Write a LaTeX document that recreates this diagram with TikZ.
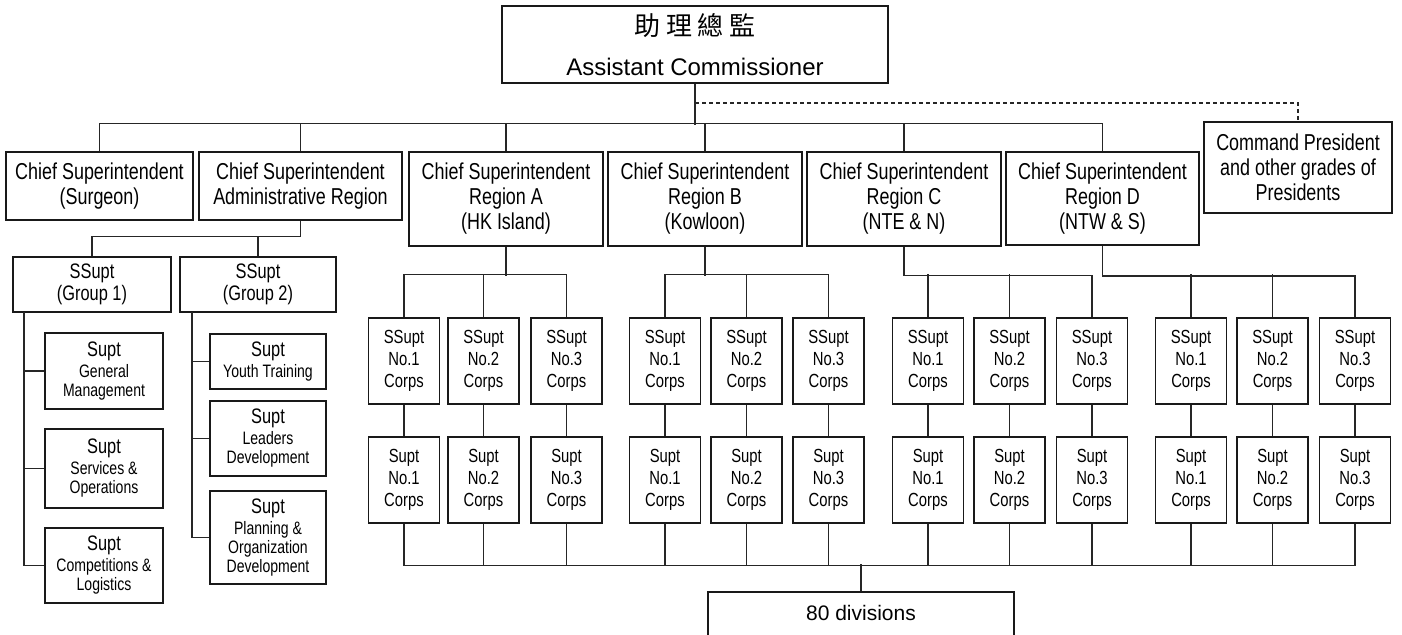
\documentclass[tikz,border=0pt]{standalone}
\usepackage{fontspec}
\setmainfont{Liberation Sans}
\newfontfamily\narrow{Liberation Sans}[FakeStretch=0.78]
\newfontfamily\cjk{Noto Sans CJK TC}
\tikzset{
  box/.style={draw=black!90, line width=0.65pt, inner sep=0pt, align=center},
  chief/.style={box, font=\narrow\fontsize{11.5}{12.5}\selectfont},
  grp/.style={box, font=\narrow\fontsize{10.5}{11}\selectfont, minimum width=79pt, minimum height=27.5pt},
  supt/.style={box, font=\narrow\fontsize{9}{9.5}\selectfont},
  corps/.style={box, font=\narrow\fontsize{9.5}{11}\selectfont, minimum width=35.5pt, minimum height=43pt},
  wire/.style={draw=black!85, line width=0.65pt}
}
\newcommand{\suptline}{{\fontsize{10.5}{10.5}\selectfont Supt}\\[1pt]}
\begin{document}
\begin{tikzpicture}[x=0.5pt, y=-0.5pt]
\useasboundingbox (0,0) rectangle (1402,635);
\clip (0,0) rectangle (1402,635);
% top
\node[box, font=\fontsize{12}{20}\selectfont, minimum width=193pt, minimum height=38.5pt] (ac) at (695,44.5) {{\cjk\fontsize{13}{20}\selectfont 助 理 總 監}\\Assistant Commissioner};
% chief superintendents
\node[chief, minimum width=93.5pt, minimum height=34pt] (surgeon) at (99.5,186) {Chief Superintendent\\(Surgeon)};
\node[chief, minimum width=101.5pt, minimum height=34pt] (admin) at (300.5,186) {Chief Superintendent\\Administrative Region};
\node[chief, minimum width=97pt, minimum height=47pt] (regA) at (506,199) {Chief Superintendent\\Region A\\(HK Island)};
\node[chief, minimum width=97pt, minimum height=47pt] (regB) at (705,199) {Chief Superintendent\\Region B\\(Kowloon)};
\node[chief, minimum width=97pt, minimum height=47pt] (regC) at (904,199) {Chief Superintendent\\Region C\\(NTE \& N)};
\node[chief, minimum width=96.5pt, minimum height=46.5pt] (regD) at (1102.5,198.5) {Chief Superintendent\\Region D\\(NTW \& S)};
\node[chief, minimum width=94pt, minimum height=45.5pt] (cmd) at (1298,167.5) {Command President\\and other grades of\\Presidents};
% administrative region
\node[grp] (grpA) at (92,284.5) {SSupt\\(Group 1)};
\node[grp, minimum width=78pt] (grpB) at (258,284.5) {SSupt\\(Group 2)};
\node[supt, minimum width=59pt, minimum height=38pt] (genman) at (104,371) {\suptline General\\Management};
\node[supt, minimum width=59pt, minimum height=39.5pt] (servop) at (104,468.5) {\suptline Services \&\\Operations};
\node[supt, minimum width=59pt, minimum height=37.5pt] (complog) at (104,565.5) {\suptline Competitions \&\\Logistics};
\node[supt, minimum width=58pt, minimum height=27.5pt] (youth) at (268,361.5) {\suptline Youth Training};
\node[supt, minimum width=58pt, minimum height=37.5pt] (leaders) at (268,438.5) {\suptline Leaders\\Development};
\node[supt, minimum width=58pt, minimum height=46.5pt] (planning) at (268,537.5) {\suptline Planning \&\\Organization\\Development};
% corps
\node[corps] (ssA1) at (404,361) {SSupt\\No.1\\Corps}; \node[corps] (ssA2) at (483.5,361) {SSupt\\No.2\\Corps}; \node[corps] (ssA3) at (566.5,361) {SSupt\\No.3\\Corps};
\node[corps] (ssB1) at (665,361) {SSupt\\No.1\\Corps}; \node[corps] (ssB2) at (746.5,361) {SSupt\\No.2\\Corps}; \node[corps] (ssB3) at (828.5,361) {SSupt\\No.3\\Corps};
\node[corps] (ssC1) at (928,361) {SSupt\\No.1\\Corps}; \node[corps] (ssC2) at (1009.5,361) {SSupt\\No.2\\Corps}; \node[corps] (ssC3) at (1092,361) {SSupt\\No.3\\Corps};
\node[corps] (ssD1) at (1191,361) {SSupt\\No.1\\Corps}; \node[corps] (ssD2) at (1272.5,361) {SSupt\\No.2\\Corps}; \node[corps] (ssD3) at (1355,361) {SSupt\\No.3\\Corps};
\node[corps] (suA1) at (404,480) {Supt\\No.1\\Corps}; \node[corps] (suA2) at (483.5,480) {Supt\\No.2\\Corps}; \node[corps] (suA3) at (566.5,480) {Supt\\No.3\\Corps};
\node[corps] (suB1) at (665,480) {Supt\\No.1\\Corps}; \node[corps] (suB2) at (746.5,480) {Supt\\No.2\\Corps}; \node[corps] (suB3) at (828.5,480) {Supt\\No.3\\Corps};
\node[corps] (suC1) at (928,480) {Supt\\No.1\\Corps}; \node[corps] (suC2) at (1009.5,480) {Supt\\No.2\\Corps}; \node[corps] (suC3) at (1092,480) {Supt\\No.3\\Corps};
\node[corps] (suD1) at (1191,480) {Supt\\No.1\\Corps}; \node[corps] (suD2) at (1272.5,480) {Supt\\No.2\\Corps}; \node[corps] (suD3) at (1355,480) {Supt\\No.3\\Corps};
\node[box, font=\fontsize{10.5}{12}\selectfont, anchor=base, text height=14.25pt, text depth=13.75pt, minimum width=153pt] (div) at (861,620.5) {80 divisions};
% connectors
\coordinate (dash) at (695,103);
\coordinate (sp1) at (24,312); \coordinate (sp2) at (192,312);
\draw[wire] (ac.south) -- ++(0,41);
\draw[wire] (surgeon.north) -- ++(0,-28) -| (regD.north);
\draw[wire] (admin.north) -- ++(0,-28); \draw[wire] (regA.north) -- ++(0,-28);
\draw[wire] (regB.north) -- ++(0,-28); \draw[wire] (regC.north) -- ++(0,-28);
\draw[wire, dash pattern=on 2pt off 1.5pt] (dash) -| (cmd.north);
\draw[wire] (admin.south) -- ++(0,16) -| (grpA.north);
\draw[wire] (admin.south) ++(0,16) -| (grpB.north);
\draw[wire] (sp1) |- (genman.west); \draw[wire] (sp1) |- (servop.west); \draw[wire] (sp1) |- (complog.west);
\draw[wire] (sp2) |- (youth.west); \draw[wire] (sp2) |- (leaders.west); \draw[wire] (sp2) |- (planning.west);
\draw[wire] (ssA1.north) -- ++(0,-43) -| (ssA3.north); \draw[wire] (ssA2.north) -- ++(0,-43); \draw[wire] (regA.south) -- ++(0,29);
\draw[wire] (ssB1.north) -- ++(0,-43) -| (ssB3.north); \draw[wire] (ssB2.north) -- ++(0,-43); \draw[wire] (regB.south) -- ++(0,29);
\draw[wire] (regC.south) -- ++(0,29) -| (ssC3.north); \draw[wire] (ssC1.north) -- ++(0,-43); \draw[wire] (ssC2.north) -- ++(0,-43);
\draw[wire] (regD.south) -- ++(0,30.5) -| (ssD3.north); \draw[wire] (ssD1.north) -- ++(0,-43); \draw[wire] (ssD2.north) -- ++(0,-43);
\draw[wire] (ssA1)--(suA1); \draw[wire] (ssA2)--(suA2); \draw[wire] (ssA3)--(suA3);
\draw[wire] (ssB1)--(suB1); \draw[wire] (ssB2)--(suB2); \draw[wire] (ssB3)--(suB3);
\draw[wire] (ssC1)--(suC1); \draw[wire] (ssC2)--(suC2); \draw[wire] (ssC3)--(suC3);
\draw[wire] (ssD1)--(suD1); \draw[wire] (ssD2)--(suD2); \draw[wire] (ssD3)--(suD3);
\draw[wire] (suA1.south) -- ++(0,42) -| (suD3.south);
\draw[wire] (suA2.south) -- ++(0,42); \draw[wire] (suA3.south) -- ++(0,42);
\draw[wire] (suB1.south) -- ++(0,42); \draw[wire] (suB2.south) -- ++(0,42); \draw[wire] (suB3.south) -- ++(0,42);
\draw[wire] (suC1.south) -- ++(0,42); \draw[wire] (suC2.south) -- ++(0,42); \draw[wire] (suC3.south) -- ++(0,42);
\draw[wire] (suD1.south) -- ++(0,42); \draw[wire] (suD2.south) -- ++(0,42);
\draw[wire] (div.north) -- ++(0,-27);
\end{tikzpicture}
\end{document}
